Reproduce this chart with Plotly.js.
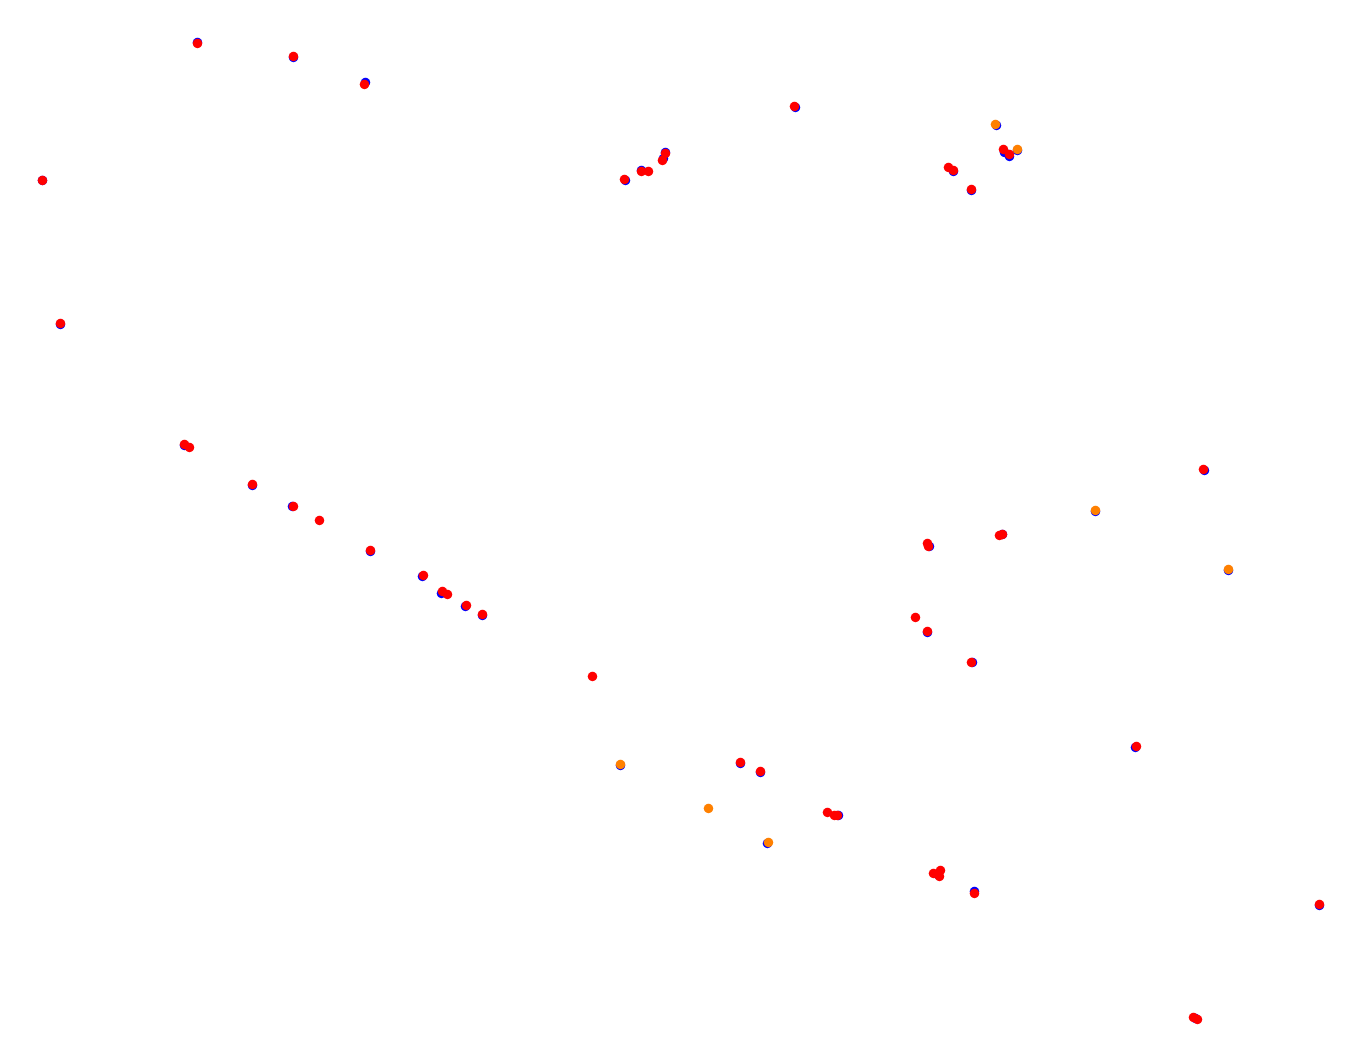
<!DOCTYPE html>
<html>
<head>
<meta charset="utf-8">
<script src="https://cdn.plot.ly/plotly-3.0.1.min.js"></script>
<style>html,body{margin:0;padding:0;background:#fff;}#chart{width:1359px;height:1064px;}</style>
</head>
<body>
<div id="chart"></div>
<script>
// Series values (x, y positions)
const blueX = [197,293,365,42,60,184,252,292,370,422,441,465,482,620,740,760,767,838,937,974,1135,1195,1319,1228,1095,1204,1002,929,927,972,996,1004,1009,1017,953,971,795,625,641,663,665];
const blueY = [42,57,82,180,324,445,485,506,551,576,593,606,615,765,763,772,843,815,874,891,747,1018,905,570,511,470,534,546,632,662,125,152,156,150,171,190,107,180,170,158,152];

const orangeX = [620,708,768,1228,1095,995,1017];
const orangeY = [764,808,842,569,510,124,149];

const redX = [197,293,364,42,60,184,189,252,293,319,370,423,442,447,466,482,592,740,760,827,834,837,933,940,939,974,1136,1193,1197,1319,1203,999,1002,927,928,915,927,971,1003,1009,948,953,971,794,624,641,648,662,665];
const redY = [43,56,84,180,323,444,447,484,506,520,550,575,591,594,605,614,676,762,771,812,815,815,873,870,876,893,746,1017,1019,904,469,535,534,543,546,617,631,662,149,154,167,170,189,106,179,171,171,160,153];

const mk = (c) => ({color: c, size: 9.5, line: {width: 0}});
const traces = [
  {x: blueX, y: blueY, type: 'scatter', mode: 'markers', marker: mk('#0000ff'), name: 'blue'},
  {x: orangeX, y: orangeY, type: 'scatter', mode: 'markers', marker: mk('#ff8000'), name: 'orange'},
  {x: redX, y: redY, type: 'scatter', mode: 'markers', marker: mk('#ff0000'), name: 'red'}
];
const layout = {
  width: 1359, height: 1064,
  margin: {l: 0, r: 0, t: 0, b: 0},
  paper_bgcolor: '#ffffff', plot_bgcolor: '#ffffff',
  showlegend: false,
  xaxis: {range: [-0.5, 1358.5], visible: false, fixedrange: true},
  yaxis: {range: [1063.5, -0.5], visible: false, fixedrange: true}
};
Plotly.newPlot('chart', traces, layout, {displayModeBar: false, staticPlot: true});
</script>
</body>
</html>
